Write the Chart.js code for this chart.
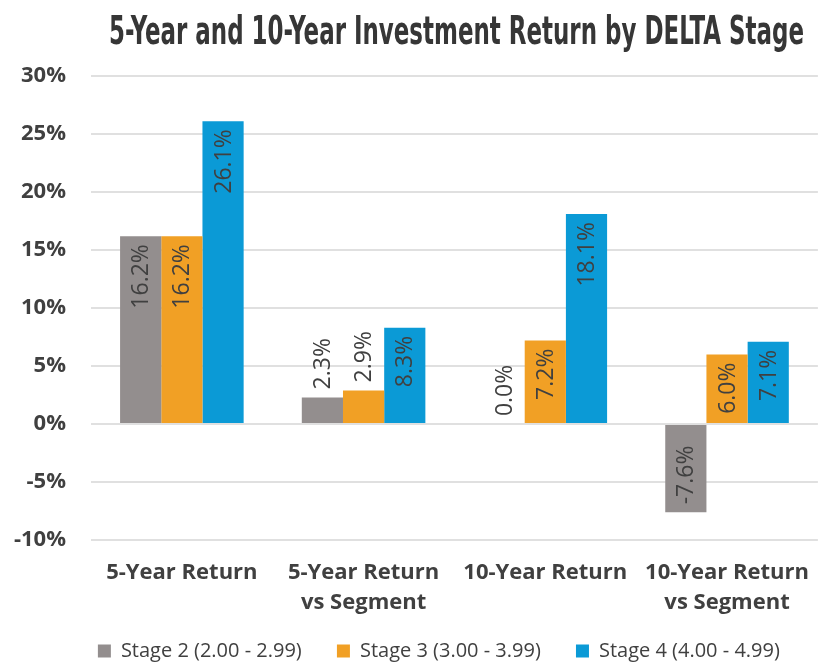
<!DOCTYPE html>
<html>
<head>
<meta charset="utf-8">
<script src="https://cdn.jsdelivr.net/npm/chart.js@4"></script>
<style>
  body { margin: 0; background: #fff; }
  #wrap { width: 819px; height: 664px; }
</style>
</head>
<body>
<div id="wrap"><canvas id="barChart" width="819" height="664"></canvas></div>
<script>
// chart data
const chartTitle = "5-Year and 10-Year Investment Return by DELTA Stage";
const categories = [
  ["5-Year Return"],
  ["5-Year Return", "vs Segment"],
  ["10-Year Return"],
  ["10-Year Return", "vs Segment"],
];
const seriesNames = ["Stage 2 (2.00 - 2.99)", "Stage 3 (3.00 - 3.99)", "Stage 4 (4.00 - 4.99)"];
const stage2 = [16.2, 2.3, 0.0, -7.6];
const stage3 = [16.2, 2.9, 7.2, 6.0];
const stage4 = [26.1, 8.3, 18.1, 7.1];
const yTicks = [-10, -5, 0, 5, 10, 15, 20, 25, 30];

const colors = ["#938e8e", "#f1a025", "#0b9ad6"];
const textColor = "#404040";
const bodyFont = "'Open Sans'";

// title drawn by hand so it can be squeezed like the condensed original
const titlePlugin = {
  id: "squeezedTitle",
  afterDraw(chart) {
    const ctx = chart.ctx;
    const area = chart.chartArea;
    ctx.save();
    ctx.font = "bold 39px 'DejaVu Sans Condensed', sans-serif";
    ctx.fillStyle = "#363636";
    ctx.textAlign = "center";
    ctx.textBaseline = "alphabetic";
    ctx.fillText(chartTitle, (area.left + area.right) / 2 + 2, 44, 695);
    ctx.restore();
  },
};

// nudge the legend a little lower, like the original
const legendShift = {
  id: "legendShift",
  afterLayout(chart) {
    if (chart.legend) {
      chart.legend.top += 7;
      chart.legend.bottom += 7;
    }
  },
};

// rotated value labels, inside end when they fit, outside end otherwise
const valueLabels = {
  id: "valueLabels",
  afterDatasetsDraw(chart) {
    const ctx = chart.ctx;
    const pad = 8;
    ctx.save();
    ctx.font = "23px " + bodyFont;
    ctx.fillStyle = textColor;
    ctx.textBaseline = "middle";
    chart.data.datasets.forEach((ds, i) => {
      const meta = chart.getDatasetMeta(i);
      meta.data.forEach((bar, j) => {
        const v = ds.data[j];
        const text = v.toFixed(1) + "%";
        const w = ctx.measureText(text).width;
        const h = Math.abs(bar.base - bar.y);
        const inside = v >= 0 && h > w + pad;
        ctx.save();
        ctx.translate(bar.x + 1, inside ? bar.y + pad : bar.y - pad);
        ctx.rotate(-Math.PI / 2);
        ctx.textAlign = inside ? "right" : "left";
        ctx.fillText(text, 0, 0);
        ctx.restore();
      });
    });
    ctx.restore();
  },
};

const seriesData = [stage2, stage3, stage4];

var ctx = document.getElementById("barChart").getContext("2d");
var myChart = new Chart(ctx, {
  type: "bar",
  data: {
    labels: categories,
    datasets: seriesData.map((d, i) => ({
      label: seriesNames[i],
      data: d,
      backgroundColor: colors[i],
      borderWidth: 0,
      categoryPercentage: 0.68,
      barPercentage: 1.0,
    })),
  },
  options: {
    responsive: false,
    animation: false,
    layout: {
      padding: { top: 76, right: 0, left: 0, bottom: 0 },
    },
    scales: {
      x: {
        grid: { display: false },
        border: { display: false },
        afterFit(axis) {
          axis.height += 2; // small gap above the legend
        },
        ticks: {
          color: textColor,
          font: { family: bodyFont, size: 22, weight: "bold", lineHeight: 1.36 },
          maxRotation: 0,
          autoSkip: false,
          padding: 10,
        },
      },
      y: {
        min: -10,
        max: 30,
        afterBuildTicks(axis) {
          axis.ticks = yTicks.map((v) => ({ value: v }));
        },
        afterFit(axis) {
          axis.width = 91;
        },
        grid: { color: "#e0e0e0", lineWidth: 2, drawTicks: false },
        border: { display: false },
        ticks: {
          color: textColor,
          font: { family: bodyFont, size: 22, weight: "bold" },
          padding: 25,
          callback: (v) => v + "%",
        },
      },
    },
    plugins: {
      title: { display: false },
      tooltip: { enabled: false },
      legend: {
        position: "bottom",
        fullSize: false,
        labels: {
          boxWidth: 13,
          boxHeight: 13,
          padding: 4,
          color: textColor,
          font: { family: bodyFont, size: 20 },
          generateLabels(chart) {
            // trailing spaces widen each entry like the original spacing
            return Chart.defaults.plugins.legend.labels
              .generateLabels(chart)
              .map((item) => ({ ...item, text: item.text + "      " }));
          },
        },
      },
    },
  },
  plugins: [titlePlugin, legendShift, valueLabels],
});
</script>
</body>
</html>
